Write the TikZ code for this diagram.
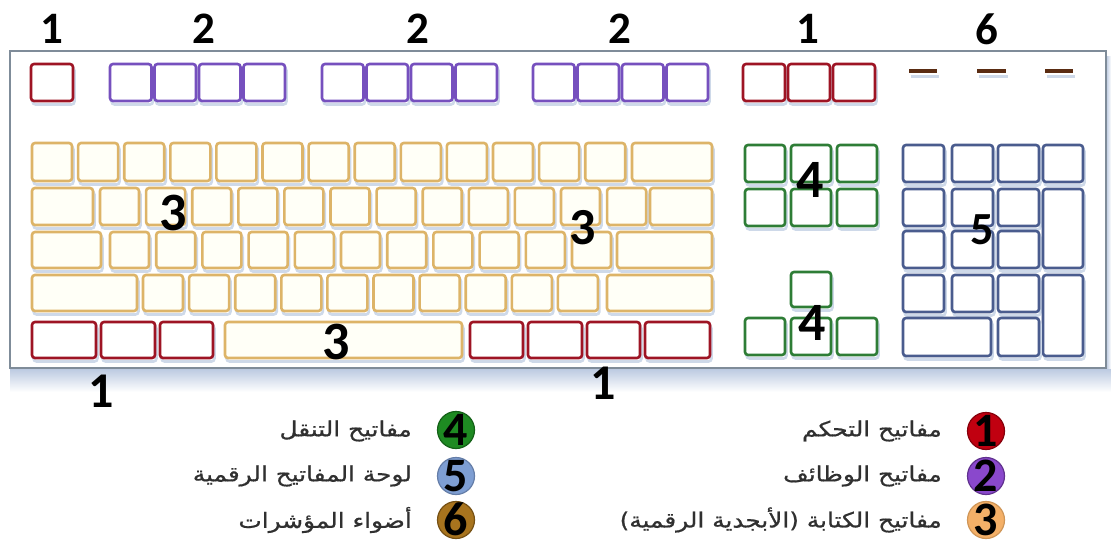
\documentclass[tikz,border=0pt]{standalone}
\usepackage{fontspec}
\setmainfont{Carlito}
\newfontfamily\arabicfont[Script=Arabic,FakeBold=0.6]{DejaVu Sans}
\TeXXeTstate=1
\definecolor{kred}{HTML}{9E1424}
\definecolor{kpur}{HTML}{7650BE}
\definecolor{kyel}{HTML}{DDB468}
\definecolor{kgrn}{HTML}{2E7D36}
\definecolor{kblu}{HTML}{4A5C8E}
\definecolor{kled}{HTML}{5A2C12}
\definecolor{frame}{HTML}{7F8C99}
\definecolor{shad}{HTML}{B9C8E0}
\definecolor{lred}{HTML}{C00010}
\definecolor{lpur}{HTML}{8A48CC}
\definecolor{lyel}{HTML}{F4B068}
\definecolor{lgrn}{HTML}{1E8A22}
\definecolor{lblu}{HTML}{7E9ED2}
\definecolor{lbrn}{HTML}{A8741E}
\definecolor{ltxt}{HTML}{303030}
\newcommand\kk[5]{\draw[#1] (#2,#3) rectangle (#4,#5);}
\newcommand\artext[1]{\scalebox{1.18}[1]{\beginR #1\endR}}
\begin{document}
\begin{tikzpicture}[x=1pt,y=-1pt,
  keybase/.style={rounded corners=3pt, line width=2.6pt, fill=white,
    preaction={draw=shad!70, line width=2.6pt, transform canvas={shift={(1.5pt,-3.5pt)}}}},
  redkey/.style={keybase, draw=kred},
  purkey/.style={keybase, draw=kpur},
  yelkey/.style={keybase, draw=kyel, fill=yellow!3},
  grnkey/.style={keybase, draw=kgrn},
  blukey/.style={keybase, draw=kblu},
  led/.style={draw=kled, line width=3.5pt,
    preaction={draw=shad!70, line width=3pt, transform canvas={shift={(1.5pt,-5pt)}}}},
  lbl/.style={font=\bfseries\fontsize{#1}{#1}\selectfont, text=black, inner sep=0pt},
  lbl/.default=45,
  legc/.style={circle, minimum size=37pt, inner sep=0pt, line width=1.2pt},
  legn/.style={font=\bfseries\fontsize{48}{48}\selectfont, text=black, inner sep=0pt,
    text height=30pt, text depth=0pt},
  legt/.style={anchor=east, inner sep=0pt, text=ltxt,
    font=\arabicfont\fontsize{21}{21}\selectfont}
]
\useasboundingbox (0,0) rectangle (1111,544);
\fill[white] (0,0) rectangle (1111,544);
% frame shadow
\shade[top color=shad, bottom color=white] (10,368) rectangle (1111,392);
\shade[left color=shad, right color=white] (1106,56) rectangle (1111,368);
\draw[frame, line width=1.5pt, fill=white] (10,51) rectangle (1106,368);

% top row
\kk{redkey}{31}{64}{73}{101}
\foreach \g in {110,322,533}{
  \foreach \i in {0,...,3}{
    \pgfmathsetmacro\xa{\g+44.5*\i}
    \draw[purkey] (\xa,64) rectangle +(41.5,37);
  }
}
\foreach \i in {0,...,2}{
  \pgfmathsetmacro\xa{743+45*\i}
  \draw[redkey] (\xa,64) rectangle +(42,37);
}
\draw[led] (909,71) -- (937,71);
\draw[led] (977,71) -- (1006,71);
\draw[led] (1045,71) -- (1073,71);

% main block
\foreach \i in {0,...,12}{
  \pgfmathsetmacro\xa{32+46.1*\i}
  \draw[yelkey] (\xa,143) rectangle +(40,38);
}
\kk{yelkey}{632}{143}{712}{181}
\kk{yelkey}{32}{188}{93}{225}
\foreach \i in {0,...,11}{
  \pgfmathsetmacro\xa{100+46.1*\i}
  \draw[yelkey] (\xa,188) rectangle +(39,37);
}
\kk{yelkey}{650}{188}{712}{225}
\kk{yelkey}{32}{232}{101}{268}
\foreach \i in {0,...,10}{
  \pgfmathsetmacro\xa{110+46.2*\i}
  \draw[yelkey] (\xa,232) rectangle +(39,36);
}
\kk{yelkey}{617}{232}{712}{268}
\kk{yelkey}{32}{275}{137}{311}
\foreach \i in {0,...,9}{
  \pgfmathsetmacro\xa{143+46.1*\i}
  \draw[yelkey] (\xa,275) rectangle +(40,36);
}
\kk{yelkey}{607}{275}{712}{311}
% bottom row
\kk{redkey}{32}{322}{96}{358}
\kk{redkey}{101}{322}{155}{358}
\kk{redkey}{160}{322}{213}{358}
\kk{yelkey}{225}{322}{462}{358}
\kk{redkey}{470}{322}{523}{358}
\kk{redkey}{528}{322}{582}{358}
\kk{redkey}{587}{322}{640}{358}
\kk{redkey}{645}{322}{710}{358}

% navigation
\foreach \y in {145,189,318}{
  \foreach \xa in {745,791,837}{
    \draw[grnkey] (\xa,\y) rectangle +(40,37);
  }
}
\kk{grnkey}{791}{272}{831}{307}

% numpad
\foreach \y in {145,189,231,275}{
  \foreach \xa in {903,952,998}{
    \draw[blukey] (\xa,\y) rectangle +(41,37);
  }
}
\kk{blukey}{1043}{145}{1083}{182}
\kk{blukey}{1043}{189}{1083}{268}
\kk{blukey}{1043}{275}{1083}{356}
\kk{blukey}{903}{318}{991}{356}
\kk{blukey}{998}{318}{1039}{356}

% labels
\node[lbl] (t1) at (52,29) {1};
\node[lbl] (t2) at (204,29) {2};
\node[lbl] (t3) at (418,29) {2};
\node[lbl] (t4) at (620,29) {2};
\node[lbl] (t5) at (808,29) {1};
\node[lbl] (t6) at (987,29) {6};
\node[lbl=54] (m1) at (173,213) {3};
\node[lbl=52] (m2) at (583,228) {3};
\node[lbl=54] (m3) at (336,342) {3};
\node[lbl=54] (n1) at (810,180) {4};
\node[lbl=54] (n2) at (812,323) {4};
\node[lbl=46] (p1) at (982,230) {5};
\node[lbl=50] (b1) at (101,391) {1};
\node[lbl=50] (b2) at (603,383) {1};

% legend
\node[legc, fill=lred, draw=lred!70!black] (c1) at (986,431) {};
\node[legc, fill=lpur, draw=lpur!70!black] (c2) at (986,476) {};
\node[legc, fill=lyel, draw=lyel!85!black] (c3) at (986,520) {};
\node[legc, fill=lgrn, draw=lgrn!70!black] (c4) at (456,430) {};
\node[legc, fill=lblu, draw=lblu!80!black] (c5) at (456,476) {};
\node[legc, fill=lbrn, draw=lbrn!70!black] (c6) at (456,520) {};
\node[legn] (k1) at (c1) {1};
\node[legn] (k2) at (c2) {2};
\node[legn] (k3) at (c3) {3};
\node[legn] (k4) at (c4) {4};
\node[legn] (k5) at (c5) {5};
\node[legn] (k6) at (c6) {6};

\node[legt] (d1) at (942,431) {\artext{مفاتيح التحكم}};
\node[legt] (d2) at (942,476) {\artext{مفاتيح الوظائف}};
\node[legt] (d3) at (942,520) {\artext{مفاتيح الكتابة (الأبجدية الرقمية)}};
\node[legt] (d4) at (412,431) {\artext{مفاتيح التنقل}};
\node[legt] (d5) at (412,476) {\artext{لوحة المفاتيح الرقمية}};
\node[legt] (d6) at (412,520) {\artext{أضواء المؤشرات}};
\end{tikzpicture}
\end{document}
